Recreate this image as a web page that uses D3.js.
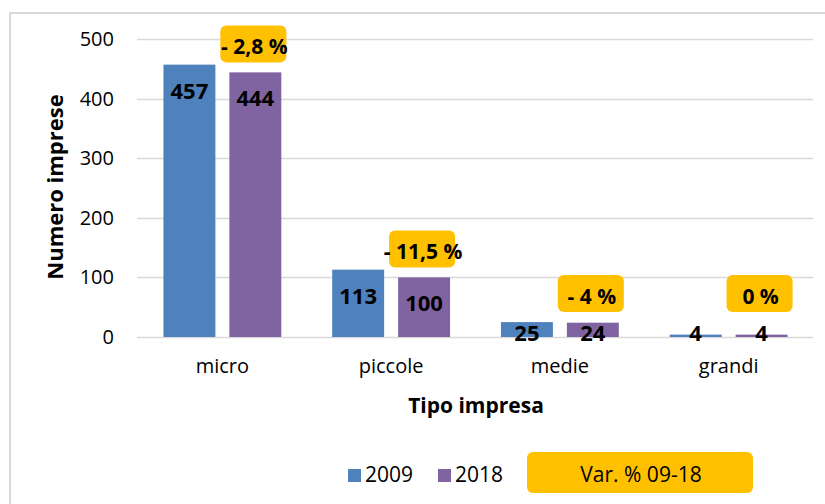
<!DOCTYPE html>
<html>
<head>
<meta charset="utf-8">
<script src="https://cdn.jsdelivr.net/npm/d3@7"></script>
<style>
  html, body { margin: 0; padding: 0; background: #fff; }
  svg { display: block; font-family: "Open Sans", "Noto Sans", sans-serif; }
</style>
</head>
<body>
<svg id="chart" width="825" height="504"></svg>
<script>
// Numero di imprese per dimensione, 2009 vs 2018
const categories = ["micro", "piccole", "medie", "grandi"];
const seriesNames = ["2009", "2018"];
const values2009 = [457, 113, 25, 4];
const values2018 = [444, 100, 24, 4];
const varLabels = ["- 2,8 %", "- 11,5 %", "- 4 %", "0 %"];
const yTicks = [0, 100, 200, 300, 400, 500];
const legendVarLabel = "Var. % 09-18";

const colors = { "2009": "#4F81BD", "2018": "#8064A2" };
const yellow = "#FFC000";
const grid = "#D9D9D9";

const svg = d3.select("#chart");

// outer frame of the chart area
svg.append("rect")
  .attr("x", 10).attr("y", 13)
  .attr("width", 840).attr("height", 520)
  .attr("fill", "none").attr("stroke", grid).attr("stroke-width", 2);

const plot = { left: 138, right: 813, top: 39, bottom: 337 };

const x = d3.scaleBand().domain(categories).range([plot.left, plot.right]).padding(0);
const x1 = d3.scaleBand().domain(seriesNames).range([0, x.bandwidth()])
  .paddingInner(0.212).paddingOuter(0.386);
const y = d3.scaleLinear().domain([0, 500]).range([plot.bottom, plot.top]);

// gridlines
svg.append("g").selectAll("line").data(yTicks).join("line")
  .attr("x1", plot.left - 1).attr("x2", plot.right)
  .attr("y1", d => Math.round(y(d)) + 0.5).attr("y2", d => Math.round(y(d)) + 0.5)
  .attr("stroke", grid).attr("stroke-width", 1.5);

// y axis (labels only)
const yAxis = d3.axisLeft(y).tickValues(yTicks).tickSize(0).tickPadding(0);
const gy = svg.append("g").attr("transform", `translate(${plot.left - 24},0)`).call(yAxis);
gy.select(".domain").remove();
gy.selectAll("text").attr("font-size", 20).attr("fill", "#000")
  .attr("font-family", "'Open Sans', sans-serif");

// x axis (labels only)
const xAxis = d3.axisBottom(x).tickSize(0).tickPadding(0);
const gx = svg.append("g").attr("transform", `translate(0,${plot.bottom + 22})`).call(xAxis);
gx.select(".domain").remove();
gx.selectAll("text").attr("font-size", 20).attr("fill", "#000")
  .attr("font-family", "'Open Sans', sans-serif");

// bars
const rows = categories.map((c, i) => ({
  cat: c,
  bars: [
    { series: "2009", value: values2009[i] },
    { series: "2018", value: values2018[i] }
  ],
  label: varLabels[i]
}));

const groups = svg.append("g").selectAll("g").data(rows).join("g")
  .attr("transform", d => `translate(${x(d.cat)},0)`);

groups.selectAll("rect").data(d => d.bars).join("rect")
  .attr("x", d => x1(d.series))
  .attr("width", x1.bandwidth())
  .attr("y", d => y(d.value))
  .attr("height", d => y(0) - y(d.value))
  .attr("fill", d => colors[d.series]);

// value labels inside bar ends
groups.selectAll("text.val").data(d => d.bars).join("text")
  .attr("class", "val")
  .attr("x", d => x1(d.series) + x1.bandwidth() / 2)
  .attr("y", d => Math.min(y(d.value) + 34, y(0) + 4))
  .attr("text-anchor", "middle")
  .attr("font-size", 22).attr("font-weight", "bold").attr("fill", "#000")
  .text(d => d.value);

// percentage change callouts above the 2018 bars
const boxW = 66, boxH = 37;
groups.each(function (d) {
  const g = d3.select(this);
  const v = d.bars[1].value;
  const cx = x1("2018") + x1.bandwidth() / 2 - 2;
  const bottom = Math.min(y(v) - 10, y(0) - 25);
  const top = bottom - boxH;
  g.append("rect")
    .attr("x", cx - boxW / 2).attr("y", top)
    .attr("width", boxW).attr("height", boxH)
    .attr("rx", 6).attr("fill", yellow);
  g.append("text")
    .attr("x", cx + 1).attr("y", top + 29)
    .attr("text-anchor", "middle")
    .attr("font-size", 21).attr("font-weight", "bold").attr("fill", "#000")
    .text(d.label);
});

// axis titles
svg.append("text")
  .attr("transform", `translate(63,187) rotate(-90)`)
  .attr("text-anchor", "middle")
  .attr("font-size", 22).attr("font-weight", "bold")
  .text("Numero imprese");

svg.append("text")
  .attr("x", 476).attr("y", 413)
  .attr("text-anchor", "middle")
  .attr("font-size", 21).attr("font-weight", "bold")
  .text("Tipo impresa");

// legend
const legend = svg.append("g");
const legendItems = [
  { name: seriesNames[0], x: 348 },
  { name: seriesNames[1], x: 438 }
];
legendItems.forEach(it => {
  legend.append("rect")
    .attr("x", it.x).attr("y", 469).attr("width", 13).attr("height", 13)
    .attr("fill", colors[it.name]);
  legend.append("text")
    .attr("x", it.x + 17).attr("y", 482)
    .attr("font-size", 21).attr("fill", "#000")
    .text(it.name);
});
legend.append("rect")
  .attr("x", 527).attr("y", 452).attr("width", 226).attr("height", 41)
  .attr("rx", 6).attr("fill", yellow);
legend.append("text")
  .attr("x", 641).attr("y", 482)
  .attr("text-anchor", "middle")
  .attr("font-size", 21).attr("fill", "#000")
  .text(legendVarLabel);
</script>
</body>
</html>
